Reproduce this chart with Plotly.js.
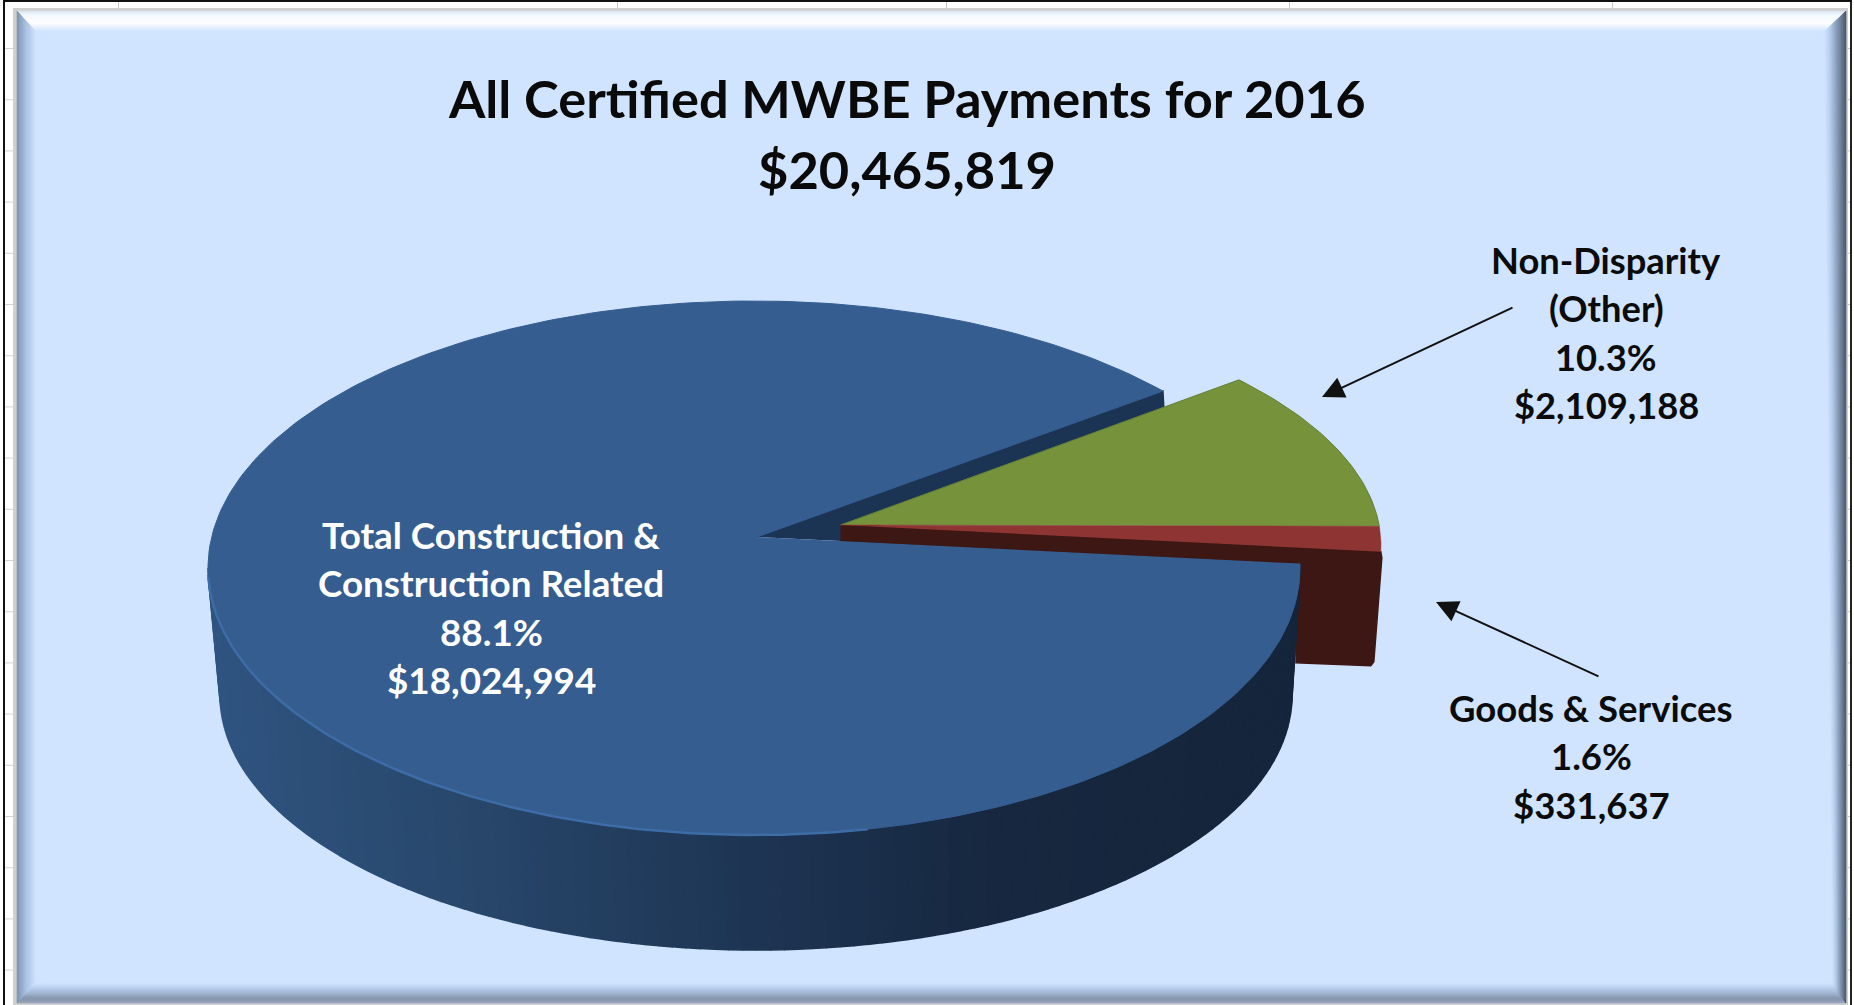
<!DOCTYPE html>
<html><head><meta charset="utf-8">
<script src="https://cdn.plot.ly/plotly-3.0.1.min.js"></script>
<style>html,body{margin:0;padding:0;background:#fff;overflow:hidden}#chart{width:1854px;height:1005px}</style>
</head><body><div id="chart"></div>
<script>
// ---- data ----
const categories = ["Total Construction & Construction Related", "Non-Disparity (Other)", "Goods & Services"];
const payments = [18024994, 2109188, 331637];
const percentLabels = ["88.1%", "10.3%", "1.6%"];
const dollarLabels = ["$18,024,994", "$2,109,188", "$331,637"];
const titleLines = ["All Certified MWBE Payments for 2016", "$20,465,819"];

// ---- projection of the tilted, exploded pie ----
const total = payments.reduce((a, b) => a + b, 0);
const W = 1854, H = 1005;
const FONT = "Lato, Carlito, 'Open Sans', sans-serif";
const rad = d => d * Math.PI / 180;
const blueTop = {cx: 754, cy: 568, rx: 546, ry: 267, apex: [757, 537]};
const blueLow = {cx: 756, cy: 695, rx: 536, ry: 255};
const cutTop = {cx: 815, cy: 545.5, rx: 566, ry: 250, apex: [840.5, 525]};
const startAngle = 41.5;
const pt = (e, a) => [e.cx + e.rx * Math.cos(rad(a)), e.cy - e.ry * Math.sin(rad(a))];
function arc(e, a0, a1, step) {
  const n = Math.max(2, Math.ceil(Math.abs(a1 - a0) / (step || 1)));
  const out = [];
  for (let i = 0; i <= n; i++) out.push(pt(e, a0 + (a1 - a0) * i / n));
  return out;
}
const sweep = payments.map(v => 360 * v / total);
const blueEnd = startAngle + sweep[0] * 1.0075;
const greenEnd = startAngle - sweep[1];
const redEnd = greenEnd - sweep[2];

function poly(points, fill, lineColor, lineW, name) {
  return {type: "scatter", mode: "lines", x: points.map(p => p[0]), y: points.map(p => p[1]),
    fill: "toself", fillcolor: fill, line: {color: lineColor || fill, width: lineW === undefined ? 1.5 : lineW},
    hoverinfo: name ? "text" : "skip", text: name, showlegend: false};
}
function mix(stops, v) {
  if (v <= stops[0][0]) return stops[0][1];
  for (let i = 1; i < stops.length; i++) {
    if (v <= stops[i][0]) {
      const t = (v - stops[i-1][0]) / (stops[i][0] - stops[i-1][0]);
      return stops[i-1][1].map((q, k) => Math.round(q + (stops[i][1][k] - q) * t));
    }
  }
  return stops[stops.length-1][1];
}
const rgb = c => "rgb(" + c.join(",") + ")";
const X = p => p[0];

const traces = [];
// dark wall behind the cut on the upper side of the big slice
const tip1 = pt(blueTop, startAngle);
const tip2 = pt(blueTop, blueEnd);
traces.push(poly([blueTop.apex, tip1, [tip1[0] + 1, tip1[1] + 19], [cutTop.apex[0], cutTop.apex[1] + 16]], "#1c3454"));
// maroon wall of the small slice
const redOut = pt(cutTop, redEnd);
traces.push(poly([cutTop.apex, redOut, [redOut[0] + 1, redOut[1] + 6], [redOut[0] - 7, redOut[1] + 110], [redOut[0] - 10, redOut[1] + 114],
  [tip2[0] - 4, redOut[1] + 111], [tip2[0], tip2[1]], [cutTop.apex[0], cutTop.apex[1] + 16]], "#3c1714"));
// green and red top faces
traces.push(poly([cutTop.apex].concat(arc(cutTop, startAngle, greenEnd)), "#76923a", "#64803a", 1, categories[1]));
traces.push(poly([cutTop.apex].concat(arc(cutTop, greenEnd, redEnd, 0.5)), "#8e3432", "#8e3432", 0.5, categories[2]));
// side band of the big slice, drawn as narrow shaded strips
const sideStops = [[210,[47,84,128]],[480,[39,70,106]],[760,[29,52,82]],[1000,[22,39,63]],[1300,[21,37,59]]];
for (let a = 180; a < blueEnd; a += 1.5) {
  const b = Math.min(a + 1.5, blueEnd);
  const q = [pt(blueTop, a), pt(blueTop, b), pt(blueLow, b), pt(blueLow, a)];
  traces.push(poly(q, rgb(mix(sideStops, (X(q[0]) + X(q[1])) / 2))));
}
// big slice top face and its lit rim
traces.push(poly([blueTop.apex].concat(arc(blueTop, startAngle, blueEnd)), "#355d90", "#355d90", 1, categories[0]));
const rim = arc(blueTop, 182, 282);
traces.push({type: "scatter", mode: "lines", x: rim.map(X), y: rim.map(p => p[1]), line: {color: "#3d6ca6", width: 2.5}, hoverinfo: "skip", showlegend: false});

// ---- sheet and bevelled chart frame ----
const shapes = [];
const rect = (x0, y0, x1, y1, fill) => shapes.push({type: "rect", x0, y0, x1, y1, fillcolor: fill, line: {width: 0}, layer: "below"});
rect(3, 0, 5, H, "#111"); rect(1850, 0, 1852, H, "#222"); rect(3, 0, 1852, 2, "#111");
for (let k = 0; k < 20; k++) {
  const y = 48 + 51.2 * k;
  rect(5, y, 14, y + 1, "#d2d2d2"); rect(1847, y, 1850, y + 1, "#c9c9c9");
}
[118, 617, 946, 1289, 1612].forEach(x => rect(x, 2, x + 1, 10, "#c8c8c8"));
rect(13, 8, 1848, 1005, "#cfcfcf");
const outer = {l: 17, t: 11, r: 1846, b: 1003}, inner = {l: 36, t: 32, rt: 1824, rb: 1832, b: 983};
const face = [208, 228, 255];
rect(outer.l, outer.t, outer.r, outer.b, rgb(face));
const corner = (u, v, t) => [u[0] + (v[0] - u[0]) * t, u[1] + (v[1] - u[1]) * t];
const TL = [[outer.l, outer.t], [inner.l, inner.t]], TR = [[outer.r, outer.t], [inner.rt, inner.t]],
      BR = [[outer.r, outer.b], [inner.rb, inner.b]], BL = [[outer.l, outer.b], [inner.l, inner.b]];
function bevel(A, B, stops) {
  const N = 24;
  for (let i = 0; i < N; i++) {
    const t0 = i / N, t1 = (i + 1) / N;
    const p = [corner(A[0], A[1], t0), corner(B[0], B[1], t0), corner(B[0], B[1], t1), corner(A[0], A[1], t1)];
    shapes.push({type: "path", path: "M" + p.map(q => q.join(",")).join("L") + "Z", fillcolor: rgb(mix(stops, (t0 + t1) / 2)),
      line: {width: 0.6, color: rgb(mix(stops, (t0 + t1) / 2))}, layer: "below"});
  }
}
bevel(TL, TR, [[0,[218,226,236]],[0.2,[245,250,255]],[0.6,[255,255,255]],[1,face]]);
bevel(BL, BR, [[0,[150,165,185]],[0.25,[132,148,170]],[0.6,[170,192,222]],[1,face]]);
bevel(TL, BL, [[0,[125,145,172]],[0.5,[170,195,228]],[1,face]]);
bevel(TR, BR, [[0,[68,82,104]],[0.35,[120,140,165]],[0.75,[180,204,236]],[1,face]]);

// ---- text ----
const annotations = [];
function lines(rows, x, y0, dy, color, size) {
  rows.forEach((t, i) => annotations.push({x, y: y0 + dy * i, xref: "x", yref: "y", text: "<b>" + t + "</b>", showarrow: false,
    xanchor: "center", yanchor: "middle", font: {family: FONT, size, color}}));
}
const amp = s => s.replace(/&/g, "&amp;");
lines([amp("Total Construction &"), "Construction Related", percentLabels[0], dollarLabels[0]], 491, 535, 48.4, "#ffffff", 36.8);
lines(["Non-Disparity", "(Other)", percentLabels[1], dollarLabels[1]], 1606, 260, 48.3, "#0b0b0b", 36.3);
lines([amp(categories[2]), percentLabels[2], dollarLabels[2]], 1591, 708, 48.3, "#0b0b0b", 36.5);
lines(titleLines, 907, 97, 71, "#0a0a0a", 52.4);
const arrow = (x, y, ax, ay) => annotations.push({x, y, ax, ay, xref: "x", yref: "y", axref: "x", ayref: "y", text: "", showarrow: true,
  arrowhead: 2, arrowsize: 2.2, arrowwidth: 2, arrowcolor: "#111"});
arrow(1322, 397, 1514, 307);
arrow(1436, 602, 1600, 677);

Plotly.newPlot("chart", traces, {
  width: W, height: H, margin: {l: 0, r: 0, t: 0, b: 0}, paper_bgcolor: "#ffffff", plot_bgcolor: "rgba(0,0,0,0)",
  showlegend: false, hovermode: "closest",
  xaxis: {range: [0, W], visible: false, fixedrange: true},
  yaxis: {range: [H, 0], visible: false, fixedrange: true},
  shapes, annotations
}, {displayModeBar: false});
</script></body></html>
